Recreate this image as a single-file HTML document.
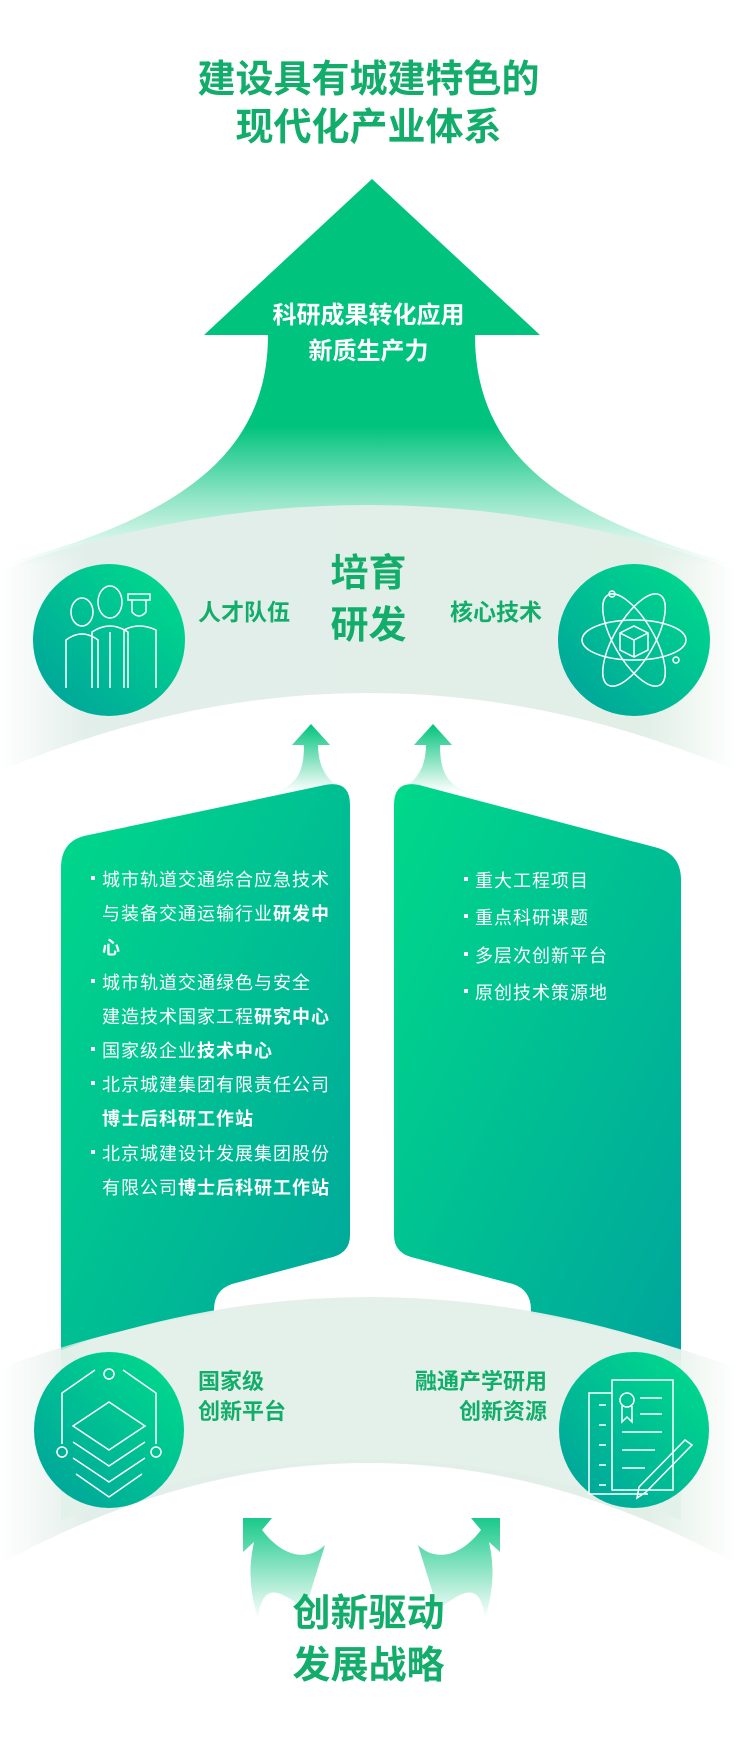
<!DOCTYPE html>
<html><head><meta charset="utf-8">
<style>
html,body{margin:0;padding:0;background:#fff;}
#c{position:relative;width:737px;height:1737px;overflow:hidden;background:#fff;font-family:"Liberation Sans","Noto Sans CJK SC",sans-serif;}
svg{position:absolute;left:0;top:0;}
.t{position:absolute;white-space:nowrap;font-weight:bold;}
.g{color:#12ad6a;}
.w{color:#fff;}
.li{position:absolute;color:#fff;font-size:18px;letter-spacing:1px;white-space:nowrap;font-weight:normal;}
.li b{font-weight:bold;}
.bul{position:absolute;width:4px;height:4px;background:#fff;}
</style></head><body><div id="c">
<svg width="737" height="1737" viewBox="0 0 737 1737">
<defs>
<linearGradient id="ag" gradientUnits="userSpaceOnUse" x1="0" y1="179" x2="0" y2="565">
<stop offset="0" stop-color="#00c37d"/><stop offset="0.64" stop-color="#00c37d"/><stop offset="0.82" stop-color="#00c37d" stop-opacity="0.45"/><stop offset="1" stop-color="#00c37d" stop-opacity="0"/></linearGradient>
<linearGradient id="bandg" x1="0" y1="0" x2="1" y2="0">
<stop offset="0" stop-color="#e2eeea" stop-opacity="0"/><stop offset="0.12" stop-color="#e2eeea"/><stop offset="0.88" stop-color="#e2efe7"/><stop offset="1" stop-color="#e2efe7" stop-opacity="0"/></linearGradient>
<linearGradient id="pg" x1="0" y1="0" x2="1" y2="1">
<stop offset="0" stop-color="#00d98a"/><stop offset="1" stop-color="#00a59c"/></linearGradient>
<linearGradient id="cg" x1="1" y1="0" x2="0" y2="1">
<stop offset="0" stop-color="#00de8b"/><stop offset="1" stop-color="#00a09c"/></linearGradient>
<linearGradient id="sg" x1="0" y1="0" x2="0" y2="1">
<stop offset="0" stop-color="#00c37d"/><stop offset="1" stop-color="#00c37d" stop-opacity="0"/></linearGradient>
</defs>
<path d="M372,179 L540,335 L475,335 C475,460 570,520 737,565 L0,565 C170,520 268,460 268,335 L204,335 Z" fill="url(#ag)"/>
<path d="M0,570 Q368,440 737,570 L737,771 Q368,615 0,771 Z" fill="url(#bandg)"/>
<path d="M311,724 L330,745 L318,745 C318,770 330,785 350,792 L275,792 C298,785 304,770 304,745 L292,745 Z" fill="url(#sg)"/>
<path d="M433,724 L452,745 L440,745 C440,770 446,785 469,792 L394,792 C414,785 426,770 426,745 L414,745 Z" fill="url(#sg)"/>
<path d="M61,868 Q61,842 84,836 L325,785 Q350,780 350,805 L350,1235 Q350,1252 333,1257 L232,1284 Q214,1290 214,1310 L214,1360 L61,1360 Z" fill="url(#pg)"/>
<path d="M394,805 Q394,780 419,785 L658,848 Q681,855 681,880 L681,1360 L531,1360 L531,1310 Q531,1290 513,1284 L411,1257 Q394,1252 394,1235 Z" fill="url(#pg)"/>
<path d="M0,1368 Q368,1234 737,1368 L737,1564 Q368,1362 0,1564 Z" fill="url(#bandg)"/>
<path d="M61,1350 Q368,1244 681,1350 L681,1520 Q368,1400 61,1520 Z" fill="#e3f0ea" opacity="0.95"/>
<path d="M243,1518 L272,1518 L262,1530 C285,1560 310,1560 325,1545 L305,1610 C280,1590 262,1580 258,1620 C250,1590 248,1570 254,1542 L243,1552 Z" fill="url(#sg)" opacity="0.9"/>
<path d="M500,1518 L471,1518 L481,1530 C458,1560 433,1560 418,1545 L438,1610 C463,1590 481,1580 485,1620 C493,1590 495,1570 489,1542 L500,1552 Z" fill="url(#sg)" opacity="0.9"/>
<ellipse cx="109" cy="640" rx="76" ry="76" fill="url(#cg)"/>
<ellipse cx="634" cy="640" rx="76" ry="76" fill="url(#cg)"/>
<ellipse cx="109" cy="1430" rx="75" ry="78" fill="url(#cg)"/>
<ellipse cx="634" cy="1430" rx="75" ry="78" fill="url(#cg)"/>
<g fill="none" stroke="#fff" stroke-width="1.5">
<ellipse cx="82" cy="612" rx="11" ry="14"/><path d="M66,688 L66,640 Q82,628 98,640 L98,688"/>
<ellipse cx="110" cy="602" rx="12" ry="16"/><path d="M92,688 L92,632 Q110,620 128,632 L128,688 M110,632 L110,688"/>
<rect x="128" y="594" width="22" height="6"/><path d="M132,600 L132,612 Q139,620 146,612 L146,600 M124,688 L124,630 Q139,622 156,630 L156,688"/>
</g>
<g fill="none" stroke="#fff" stroke-width="1.5">
<ellipse cx="634" cy="640" rx="52" ry="20"/>
<ellipse cx="634" cy="640" rx="52" ry="20" transform="rotate(60 634 640)"/>
<ellipse cx="634" cy="640" rx="52" ry="20" transform="rotate(-60 634 640)"/>
<path d="M634,626 L648,633 L648,650 L634,657 L620,650 L620,633 Z M620,633 L634,640 L648,633 M634,640 L634,657"/>
<circle cx="612" cy="594" r="3"/><circle cx="676" cy="660" r="3"/>
</g>
<g fill="none" stroke="#fff" stroke-width="1.5">
<circle cx="109" cy="1374" r="5"/><circle cx="62" cy="1452" r="5"/><circle cx="156" cy="1452" r="5"/>
<path d="M62,1444 L62,1393 L95,1370 M156,1444 L156,1393 L123,1370"/>
<path d="M109,1402 L145,1426 L109,1450 L73,1426 Z"/>
<path d="M73,1442 L109,1466 L145,1442 M73,1458 L109,1482 L145,1458 M76,1474 L109,1497 L142,1474"/>
</g>
<g fill="none" stroke="#fff" stroke-width="1.5">
<path d="M612,1393 L589,1393 L589,1494 L648,1494"/>
<path d="M599,1405 L606,1405 M599,1425 L606,1425 M599,1445 L606,1445 M599,1465 L606,1465 M599,1485 L606,1485"/>
<rect x="612" y="1380" width="61" height="110"/>
<circle cx="627" cy="1400" r="7"/><path d="M622,1406 L622,1422 L627,1417 L632,1422 L632,1406"/>
<path d="M640,1398 L662,1398 M640,1414 L662,1414 M622,1432 L662,1432 M622,1450 L655,1450 M622,1468 L645,1468"/>
<path d="M685,1440 L692,1445 L646,1492 L637,1498 L639,1487 Z"/>
</g>
</svg>
<div class="t g" style="left:0;width:737px;text-align:center;top:56px;font-size:38px;line-height:48px;">建设具有城建特色的<br>现代化产业体系</div>
<div class="t w" style="left:0;width:737px;text-align:center;top:298px;font-size:24px;line-height:36px;">科研成果转化应用<br>新质生产力</div>
<div class="t g" style="left:0;width:737px;text-align:center;top:548px;font-size:38px;line-height:52px;">培育<br>研发</div>
<div class="t g" style="left:198px;top:593px;font-size:23px;">人才队伍</div>
<div class="t g" style="left:450px;top:593px;font-size:23px;">核心技术</div>

<div class="bul" style="left:91px;top:876px"></div>
<div class="li" style="left:102px;top:866px">城市轨道交通综合应急技术</div>
<div class="li" style="left:102px;top:900px">与装备交通运输行业<b>研发中</b></div>
<div class="li" style="left:102px;top:934px"><b>心</b></div>
<div class="bul" style="left:91px;top:979px"></div>
<div class="li" style="left:102px;top:969px">城市轨道交通绿色与安全</div>
<div class="li" style="left:102px;top:1003px">建造技术国家工程<b>研究中心</b></div>
<div class="bul" style="left:91px;top:1047px"></div>
<div class="li" style="left:102px;top:1037px">国家级企业<b>技术中心</b></div>
<div class="bul" style="left:91px;top:1081px"></div>
<div class="li" style="left:102px;top:1071px">北京城建集团有限责任公司</div>
<div class="li" style="left:102px;top:1105px"><b>博士后科研工作站</b></div>
<div class="bul" style="left:91px;top:1150px"></div>
<div class="li" style="left:102px;top:1140px">北京城建设计发展集团股份</div>
<div class="li" style="left:102px;top:1174px">有限公司<b>博士后科研工作站</b></div>

<div class="bul" style="left:464px;top:877px"></div>
<div class="li" style="left:475px;top:867px">重大工程项目</div>
<div class="bul" style="left:464px;top:914px"></div>
<div class="li" style="left:475px;top:904px">重点科研课题</div>
<div class="bul" style="left:464px;top:952px"></div>
<div class="li" style="left:475px;top:942px">多层次创新平台</div>
<div class="bul" style="left:464px;top:989px"></div>
<div class="li" style="left:475px;top:979px">原创技术策源地</div>

<div class="t g" style="left:198px;top:1367px;font-size:22px;line-height:30px;">国家级<br>创新平台</div>
<div class="t g" style="left:340px;width:207px;text-align:right;top:1367px;font-size:22px;line-height:30px;">融通产学研用<br>创新资源</div>
<div class="t g" style="left:0;width:737px;text-align:center;top:1588px;font-size:38px;line-height:52px;">创新驱动<br>发展战略</div>
</div></body></html>
